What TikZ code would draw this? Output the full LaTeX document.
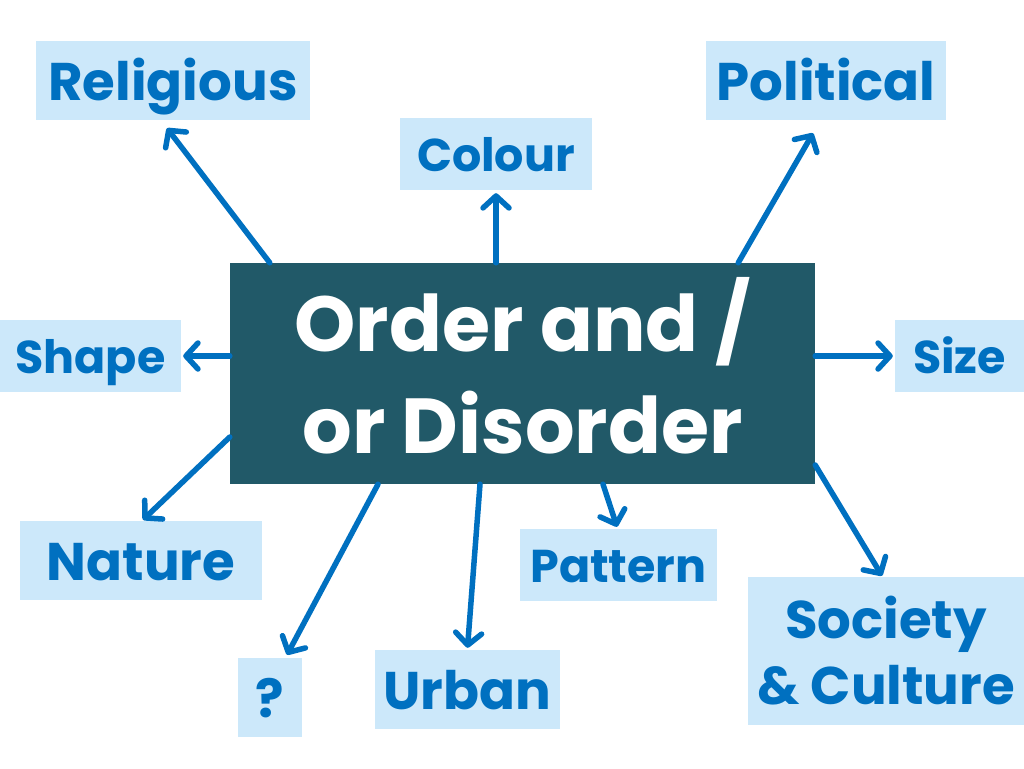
\documentclass[tikz,border=0pt]{standalone}
\usepackage{fontspec}
\setmainfont{Poppins}
\usetikzlibrary{arrows.meta}

\definecolor{hubteal}{HTML}{215968}
\definecolor{topicfill}{HTML}{CCE8FA}
\definecolor{topicblue}{HTML}{0070C0}

\begin{document}
\begin{tikzpicture}[
    x=1pt, y=-1pt,
    hub/.style={fill=hubteal, text=white, align=center, inner sep=0pt,
                minimum width=585pt, minimum height=221pt,
                text depth=17pt,
                font=\fontsize{78}{102}\selectfont\bfseries},
    topic/.style={fill=topicfill, text=topicblue, inner sep=0pt,
                  text height=39pt, text depth=0pt,
                  font=\fontsize{53}{64}\selectfont\bfseries},
    minor/.style={text height=34pt,
                  font=\fontsize{46}{56}\selectfont\bfseries},
    link/.style={topicblue, line width=5.5pt, line cap=round,
                 -{Straight Barb[length=12pt, width=26pt, round]}}
]
\useasboundingbox (0,0) rectangle (1024,768);

% ---------- centre ----------
\node[hub] (hub) at (522.5,373.5) {Order and /\\or Disorder};

% ---------- topics ----------
\node[topic, minimum width=274pt, minimum height=79pt] (religious) at (173,80.5) {Religious};
\node[topic, minor, minimum width=192pt, minimum height=72pt] (colour) at (496,154) {Colour};
\node[topic, minimum width=240pt, minimum height=79pt] (political) at (826,80.5) {Political};
\node[topic, minor, minimum width=181pt, minimum height=72pt] (shape) at (90.5,356) {Shape};
\node[topic, minor, minimum width=129pt, minimum height=72pt] (size) at (959.5,356) {Size};
\node[topic, minimum width=242pt, minimum height=79pt] (nature) at (141,560.5) {Nature};
\node[topic, minimum width=64pt, minimum height=79pt] (query) at (270,697.5) {?};
\node[topic, minimum width=185pt, minimum height=79pt] (urban) at (467.5,689.5) {Urban};
\node[topic, minor, minimum width=197pt, minimum height=72pt] (pattern) at (618.5,565) {Pattern};
\node[topic, text height={}, text depth={}, align=center,
      font=\fontsize{53}{66}\selectfont\bfseries,
      minimum width=276pt, minimum height=148pt] (society) at (886,651) {Society\\\& Culture};

% ---------- links ----------
\draw[link] ([xshift=40pt]hub.north west) -- ([xshift=-6pt,yshift=-8pt]religious.south);
\draw[link] (hub.north -| colour.south) -- ([yshift=-3pt]colour.south);
\draw[link] ([xshift=-77pt]hub.north east) -- ([xshift=-13pt,yshift=-13pt]political.south);
\draw[link] (hub.west |- shape.east) -- ([xshift=2pt]shape.east);
\draw[link] (hub.east |- size.west) -- ([xshift=-2pt]size.west);
\draw[link] ([yshift=-63.5pt]hub.west) -- ([xshift=2pt,yshift=1pt]nature.north);
\draw[link] ([xshift=-144.5pt]hub.south) -- ([xshift=17pt,yshift=3pt]query.north);
\draw[link] ([xshift=-42.5pt]hub.south) -- ([yshift=2pt]urban.north);
\draw[link] ([xshift=80.5pt]hub.south) -- ([xshift=-1.5pt,yshift=2pt]pattern.north);
\draw[link] ([yshift=-91.5pt]hub.east) -- ([xshift=-4pt,yshift=1pt]society.north);

\end{tikzpicture}
\end{document}
